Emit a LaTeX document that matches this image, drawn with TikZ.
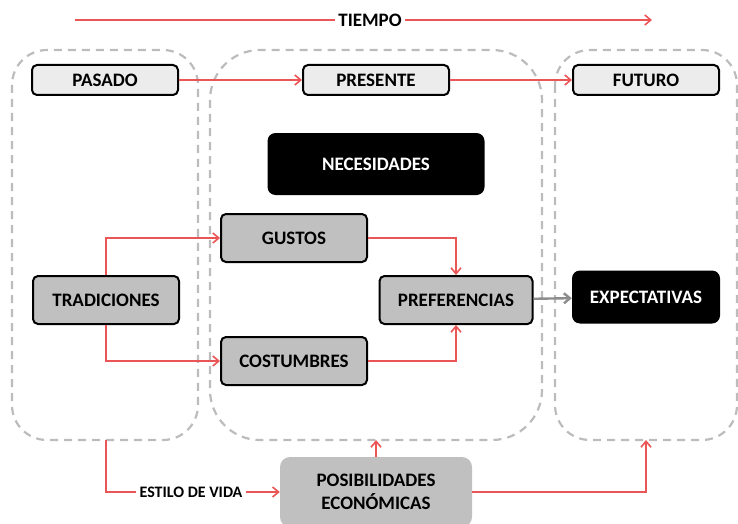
\documentclass[tikz,border=0pt]{standalone}
\usepackage{fontspec}
\setmainfont{Carlito}
\usetikzlibrary{arrows.meta}
\definecolor{linkred}{RGB}{234,86,86}
\definecolor{zonegray}{RGB}{188,188,188}
\definecolor{boxgray}{RGB}{192,192,192}
\definecolor{tabgray}{RGB}{236,236,236}
\definecolor{pushgray}{RGB}{140,140,140}

\begin{document}
\begin{tikzpicture}[x=1pt, y=-1pt,
    every node/.style={font=\bfseries\fontsize{19}{22}\selectfont},
    tab/.style={draw=black, line width=2pt, rounded corners=5pt, fill=tabgray,
        minimum width=146pt, minimum height=30pt, inner sep=0pt},
    item/.style={tab, fill=boxgray, minimum height=48pt},
    dark/.style={fill=black, text=white, rounded corners=8pt, inner sep=0pt},
    zone/.style={draw=zonegray, line width=2.2pt, dash pattern=on 8pt off 6pt},
    link/.style={draw=linkred, line width=1.6pt, -{Straight Barb[length=6pt,width=10pt]}}]
    \useasboundingbox (0,0) rectangle (738,524);
    % time zones
    \draw[zone, rounded corners=35pt] (12,50) rectangle (198,440);
    \draw[zone, rounded corners=50pt] (210,50) rectangle (542,440);
    \draw[zone, rounded corners=35pt] (555,50) rectangle (737,440);
    \coordinate (pastend) at (106,440);
    \coordinate (nowend) at (376,440);
    \coordinate (nextend) at (646,440);
    % timeline
    \coordinate (tstart) at (75,20);
    \coordinate (tend) at (652,20);
    \node (tiempo) at (370,20) {TIEMPO};
    \draw[link, -] (tstart) -- (tiempo.west);
    \draw[link] (tiempo.east) -- (tend);
    % boxes
    \node[tab] (pasado) at (105,80) {PASADO};
    \node[tab] (presente) at (376,80) {PRESENTE};
    \node[tab] (futuro) at (646,80) {FUTURO};
    \node[dark, minimum width=217pt, minimum height=62pt] (necesidades) at (376,164) {NECESIDADES};
    \node[item] (gustos) at (294,238) {GUSTOS};
    \node[item] (tradiciones) at (106,300) {TRADICIONES};
    \node[item] (costumbres) at (294,361) {COSTUMBRES};
    \node[item, minimum width=153pt] (preferencias) at (456,300) {PREFERENCIAS};
    \node[dark, minimum width=148pt, minimum height=53pt] (expectativas) at (646,297) {EXPECTATIVAS};
    \node[fill=boxgray, rounded corners=10pt, minimum width=192pt, minimum height=70pt,
        align=center] (posibilidades) at (376,492) {POSIBILIDADES\\[1pt]ECONÓMICAS};
    \node[font=\bfseries\fontsize{16}{18}\selectfont] (estilo) at (191,492) {ESTILO DE VIDA};
    % connectors
    \draw[link] (pasado) -- (presente);
    \draw[link] (presente) -- (futuro);
    \draw[link] (tradiciones.north) |- (gustos.west);
    \draw[link] (tradiciones.south) |- (costumbres.west);
    \draw[link] (gustos.east) -| (preferencias.north);
    \draw[link] (costumbres.east) -| (preferencias.south);
    \draw[link, draw=pushgray, line width=2.4pt] (preferencias) -- (expectativas);
    \draw[link, -] (pastend) |- (estilo.west);
    \draw[link] (estilo.east) -- (posibilidades.west);
    \draw[link] (posibilidades.north) -- (nowend);
    \draw[link] (posibilidades.east) -| (nextend);
\end{tikzpicture}
\end{document}
